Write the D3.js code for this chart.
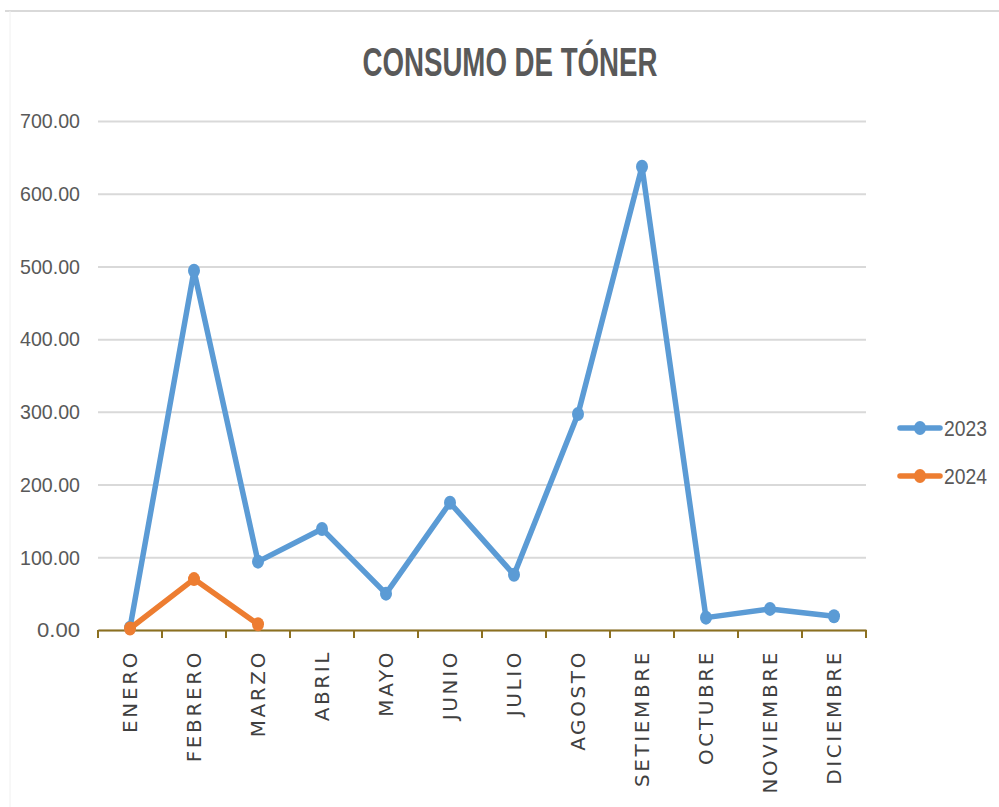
<!DOCTYPE html>
<html>
<head>
<meta charset="utf-8">
<script src="https://cdn.jsdelivr.net/npm/d3@7"></script>
<style>
  body { margin: 0; background: #fff; }
  svg { display: block; }
</style>
</head>
<body>
<svg width="999" height="807"></svg>
<script>
let months = ["ENERO", "FEBRERO", "MARZO", "ABRIL", "MAYO", "JUNIO", "JULIO",
              "AGOSTO", "SETIEMBRE", "OCTUBRE", "NOVIEMBRE", "DICIEMBRE"];
let values2023 = [3, 494, 94, 139, 50, 175, 76, 297, 637, 17, 29, 19];
let values2024 = [2, 70, 8];
let yTicks = [0, 100, 200, 300, 400, 500, 600, 700];

let series = [
  {name: "2023", color: "#5b9bd5", values: values2023},
  {name: "2024", color: "#ed7d31", values: values2024}
];

let svg = d3.select("svg"),
    margin = {top: 121, right: 133, bottom: 177, left: 98},
    width = 999 - margin.left - margin.right,
    height = 807 - margin.top - margin.bottom;

// chart frame
svg.append("line")
    .attr("x1", 5).attr("x2", 999).attr("y1", 11).attr("y2", 11)
    .attr("stroke", "#d9d9d9").attr("stroke-width", 2);
svg.append("line")
    .attr("x1", 10).attr("x2", 10).attr("y1", 11).attr("y2", 807)
    .attr("stroke", "#f0f0f0").attr("stroke-width", 1);

svg.append("text")
    .attr("x", 510).attr("y", 76)
    .attr("text-anchor", "middle")
    .attr("font-family", "Liberation Sans, Arial, sans-serif")
    .attr("font-weight", "bold")
    .attr("font-size", 40)
    .attr("textLength", 295)
    .attr("lengthAdjust", "spacingAndGlyphs")
    .attr("fill", "#595959")
    .text("CONSUMO DE TÓNER");

let g = svg.append("g").attr("transform", `translate(${margin.left},${margin.top})`);

let x = d3.scaleBand().domain(months).range([0, width]);
let y = d3.scaleLinear().domain([0, 700]).range([height, 0]);

// gridlines
g.append("g")
    .call(d3.axisLeft(y).tickValues(yTicks).tickSize(-width).tickFormat(""))
    .call(a => a.select(".domain").remove())
    .call(a => a.selectAll("line").attr("stroke", "#d9d9d9").attr("stroke-width", 2));

// y labels
g.append("g")
    .call(d3.axisLeft(y).tickValues(yTicks).tickSize(0).tickPadding(18).tickFormat(d3.format(".2f")))
    .call(a => a.select(".domain").remove())
    .call(a => a.selectAll("text")
        .attr("font-family", "Liberation Sans, Arial, sans-serif")
        .attr("font-size", 21)
        .attr("textLength", d => d === 0 ? 43 : 60)
        .attr("lengthAdjust", "spacingAndGlyphs")
        .attr("fill", "#595959"));

// x axis
let xAxis = g.append("g")
    .attr("transform", `translate(0,${height})`)
    .call(d3.axisBottom(x).tickSize(0).tickPadding(0));
xAxis.select(".domain").attr("stroke", "#8c7020").attr("stroke-width", 2);
xAxis.selectAll("text")
    .attr("transform", "rotate(-90)")
    .attr("text-anchor", "end")
    .attr("dx", "-20px")
    .attr("dy", "0.36em")
    .attr("y", 0)
    .attr("font-family", "DejaVu Sans, sans-serif")
    .attr("font-size", 20)
    .attr("letter-spacing", 2.6)
    .attr("fill", "#404040");

let bounds = months.map(m => x(m)).concat([width]);
xAxis.selectAll(".bound")
    .data(bounds)
  .enter().append("line")
    .attr("x1", d => d).attr("x2", d => d)
    .attr("y1", 0).attr("y2", 8)
    .attr("stroke", "#8c7020").attr("stroke-width", 2);

let line = d3.line()
    .x((d, i) => x(months[i]) + x.bandwidth() / 2)
    .y(d => y(d));

series.forEach(s => {
  g.append("path")
      .datum(s.values)
      .attr("fill", "none")
      .attr("stroke", s.color)
      .attr("stroke-width", 5.5)
      .attr("stroke-linejoin", "round")
      .attr("d", line);
  g.selectAll(null)
      .data(s.values)
    .enter().append("ellipse")
      .attr("cx", (d, i) => x(months[i]) + x.bandwidth() / 2)
      .attr("cy", d => y(d))
      .attr("rx", 6).attr("ry", 7)
      .attr("fill", s.color);
});

// legend
let legend = svg.append("g").attr("transform", "translate(898,428)");
series.forEach((s, i) => {
  let row = legend.append("g").attr("transform", `translate(0,${i * 48})`);
  row.append("line")
      .attr("x1", 2).attr("x2", 42)
      .attr("stroke", s.color).attr("stroke-width", 5.5)
      .attr("stroke-linecap", "round");
  row.append("ellipse")
      .attr("cx", 22).attr("rx", 6).attr("ry", 7)
      .attr("fill", s.color);
  row.append("text")
      .attr("x", 46).attr("dy", "0.36em")
      .attr("font-family", "Liberation Sans, Arial, sans-serif")
      .attr("font-size", 22)
      .attr("textLength", 43)
      .attr("lengthAdjust", "spacingAndGlyphs")
      .attr("fill", "#595959")
      .text(s.name);
});
</script>
</body>
</html>
